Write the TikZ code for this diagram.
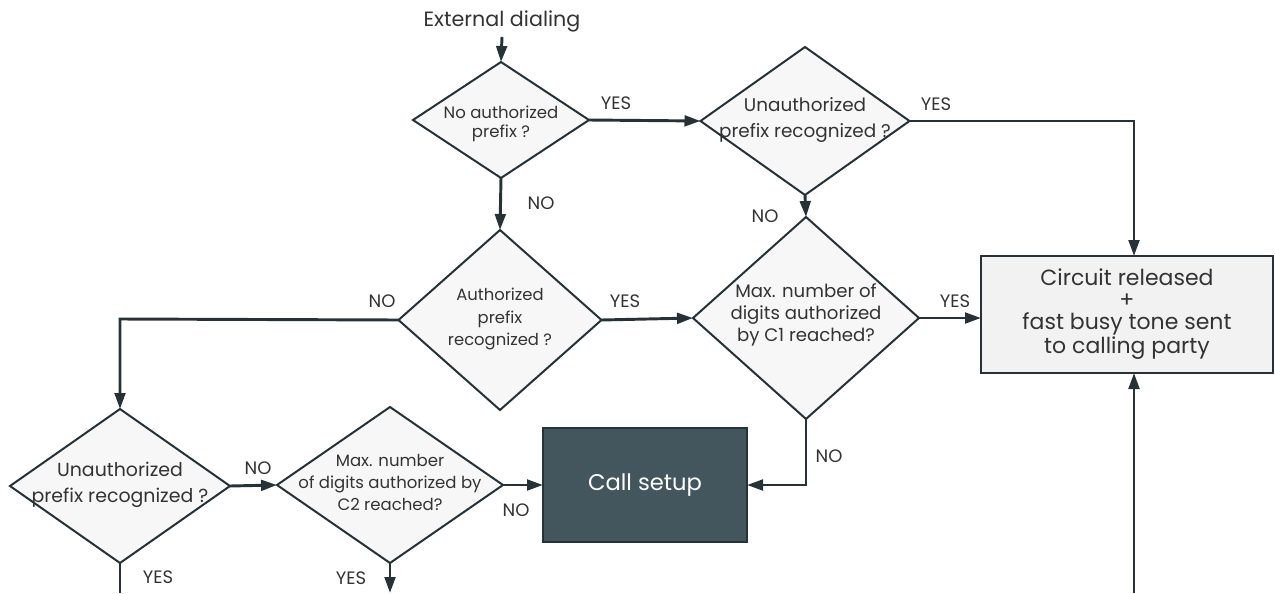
\documentclass[tikz,border=0pt]{standalone}
\usepackage{fontspec}
\setmainfont{Poppins}
\usetikzlibrary{shapes.geometric,arrows.meta}
\definecolor{ln}{HTML}{263238}
\definecolor{dfill}{HTML}{F7F7F7}
\definecolor{bfill}{HTML}{F2F2F2}
\definecolor{cfill}{HTML}{44565D}
\definecolor{tx}{HTML}{333333}
\begin{document}
\begin{tikzpicture}[x=0.75pt,y=-0.75pt,
  dia/.style={diamond,draw=ln,line width=1.5pt,fill=dfill,inner sep=0pt,outer sep=0pt},
  dtext/.style={align=center,text=tx,inner sep=0pt},
  lbl/.style={text=tx,inner sep=0pt,font=\fontsize{13.5}{15}\selectfont},
  conn/.style={draw=ln,line width=2.2pt},
  arr/.style={conn,-{Triangle[length=12pt,width=8pt]}}
]
\useasboundingbox (0,0) rectangle (1275,593);
% diamonds
\node[dia,minimum width=176*0.75pt,minimum height=116*0.75pt] (D1) at (501,120) {};
\node[dia,minimum width=209*0.75pt,minimum height=148*0.75pt] (D2) at (805,121) {};
\node[dia,minimum width=226*0.75pt,minimum height=202*0.75pt] (D3) at (806,318) {};
\node[dia,minimum width=203*0.75pt,minimum height=180*0.75pt] (D4) at (500,320) {};
\node[dia,minimum width=220*0.75pt,minimum height=154*0.75pt] (D5) at (120,486) {};
\node[dia,minimum width=226*0.75pt,minimum height=156*0.75pt] (D6) at (390,485) {};
% boxes
\node[draw=ln,line width=1.8pt,fill=bfill,minimum width=292*0.75pt,minimum height=117*0.75pt,inner sep=0pt,outer sep=0pt] (B) at (1127,314.5) {};
\node[draw=ln,line width=1.8pt,fill=cfill,minimum width=204*0.75pt,minimum height=114*0.75pt,inner sep=0pt,outer sep=0pt,text=white,font=\fontsize{17}{20}\selectfont] (C) at (645,485) {Call setup};
% texts
\node[dtext,font=\fontsize{15.5}{18}\selectfont] (ext) at (502,21) {External dialing};
\node[dtext,font=\fontsize{12.4}{14.5}\selectfont] (T1) at (501,124) {No authorized\\prefix ?};
\node[dtext,font=\fontsize{13.8}{19}\selectfont] (T2) at (805,120) {Unauthorized\\prefix recognized ?};
\node[dtext,font=\fontsize{13.6}{16.3}\selectfont] (T3) at (806,315) {Max. number of\\digits authorized\\by C1 reached?};
\node[dtext,font=\fontsize{12.3}{17}\selectfont] (T4) at (500,319) {Authorized\\prefix\\recognized ?};
\node[dtext,font=\fontsize{14.2}{20}\selectfont] (T5) at (120,485) {Unauthorized\\prefix recognized ?};
\node[dtext,font=\fontsize{12.4}{16.5}\selectfont] (T6) at (390,482) {Max. number\\of digits authorized by\\C2 reached?};
\node[dtext,font=\fontsize{16.5}{16.5}\selectfont] (TB) at (1127,314) {Circuit released\\+\\fast busy tone sent\\to calling party};
% coordinates
\coordinate (c1) at (1134,121);
\coordinate (c2) at (1134,593);
\coordinate (c3) at (806,485);
\coordinate (c4) at (120,319);
\coordinate (c5) at (120,593);
\coordinate (c6) at (390,593);
\coordinate (e1) at (502,37);
% connectors
\draw[arr] (e1) -- (D1.north);
\draw[arr] (D1.east) -- (D2.west);
\draw[arr] (D2.east) -- (c1) -- (c1 |- B.north);
\draw[arr] (D2.south) -- (D3.north);
\draw[arr] (D1.south) -- (D4.north);
\draw[arr] (D4.east) -- (D3.west);
\draw[arr] (D3.east) -- (D3.east -| B.west);
\draw[arr] (D3.south) -- (c3) -- (C.east);
\draw[arr] (D4.west) -- (c4) -- (D5.north);
\draw[arr] (D5.east) -- (D6.west);
\draw[conn] (D5.south) -- (c5);
\draw[arr] (D6.south) -- (c6);
\draw[arr] (D6.east) -- (C.west);
\draw[arr] (c2) -- (c2 |- B.south);
% labels
\node[lbl] (L1) at (616,103) {YES};
\node[lbl] (L2) at (936,104) {YES};
\node[lbl] (L3) at (765,216) {NO};
\node[lbl] (L4) at (541,203) {NO};
\node[lbl] (L5) at (625,301) {YES};
\node[lbl] (L6) at (955,301) {YES};
\node[lbl] (L7) at (829,456) {NO};
\node[lbl] (L8) at (382,301) {NO};
\node[lbl] (L9) at (258,468) {NO};
\node[lbl] (L10) at (158,577) {YES};
\node[lbl] (L11) at (351,578) {YES};
\node[lbl] (L12) at (516,510) {NO};
\end{tikzpicture}
\end{document}
